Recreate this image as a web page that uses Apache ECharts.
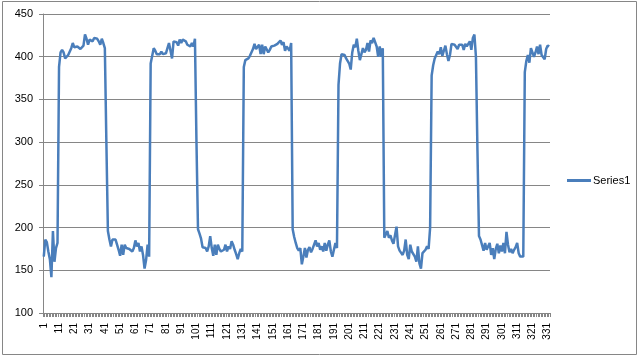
<!DOCTYPE html>
<html>
<head>
<meta charset="utf-8">
<script src="https://cdn.jsdelivr.net/npm/echarts@6/dist/echarts.min.js"></script>
<style>
html,body{margin:0;padding:0;background:#fff;}
#chart{width:640px;height:357px;}
</style>
</head>
<body>
<div id="chart"></div>
<script>
const seriesName = "Series1";
const series1 = [
166,186,183,172,163,142,196,160,176,182,
388,405,408,405,398,397,402,400,410,416,
411,410,412,410,409,409,413,426,421,414,
420,419,418,422,420,421,418,414,421,416,
410,300,196,186,178,186,187,186,180,174,
167,180,168,180,176,178,175,176,172,176,
185,178,182,172,178,168,152,162,180,166,
392,393,410,407,403,405,403,406,403,405,
404,410,416,417,398,418,416,417,413,420,
416,420,419,418,414,414,412,416,412,421,
300,198,193,187,177,179,176,172,178,190,
176,167,180,168,180,175,172,174,174,180,
172,178,175,184,180,174,169,163,170,175,
172,388,396,397,398,401,403,409,415,409,
410,414,403,414,403,412,411,405,408,412,
410,413,411,415,414,419,414,417,407,412,
414,407,416,198,189,182,176,173,176,157,
166,176,165,174,177,171,175,180,185,178,
182,174,178,172,182,173,180,185,172,166,
174,182,176,367,392,403,402,402,398,400,
392,385,405,414,411,421,407,396,395,410,
405,408,416,406,419,416,422,420,412,400,
412,400,410,188,186,196,188,191,185,181,
183,201,178,173,172,168,173,186,168,163,
180,172,172,166,160,178,158,152,170,170,
174,178,175,200,378,390,398,402,406,403,
411,401,407,413,403,395,402,415,414,414,
414,409,414,412,414,408,415,412,410,418,
408,422,426,400,290,190,186,186,173,182,
174,172,182,168,176,163,175,181,170,179,
172,182,170,195,180,171,175,170,174,177,
182,170,166,166,166,382,395,402,393,410,
405,400,405,412,403,414,402,401,397,409,
413,412
];
const categories = series1.map((v, i) => String(i + 1));
const yMin = 100, yMax = 450, yStep = 50;

const chart = echarts.init(document.getElementById('chart'), null, {renderer: 'canvas'});
const axisGray = '#868686';
chart.setOption({
  animation: false,
  backgroundColor: '#ffffff',
  textStyle: {fontFamily: 'Liberation Sans, Arial, sans-serif'},
  graphic: [{
    type: 'rect',
    shape: {x: 2.5, y: 1.5, width: 634, height: 353},
    style: {fill: 'none', stroke: axisGray, lineWidth: 1},
    silent: true, z: -1
  }],
  grid: {left: 43, right: 90, top: 14, bottom: 44, containLabel: false},
  legend: {
    data: [seriesName],
    left: 562, top: 170,
    icon: 'rect', itemWidth: 24, itemHeight: 3, itemGap: 4,
    textStyle: {fontSize: 11, color: '#000', padding: [0,0,0,-3]}
  },
  xAxis: {
    type: 'category',
    data: categories,
    boundaryGap: true,
    axisLine: {lineStyle: {color: axisGray, width: 1}},
    axisTick: {show: true, interval: 0, length: 4, lineStyle: {color: axisGray}},
    axisLabel: {interval: 9, rotate: 90, fontSize: 10, color: '#000', margin: 10},
    splitLine: {show: false}
  },
  yAxis: {
    type: 'value',
    min: yMin, max: yMax, interval: yStep,
    axisLine: {show: true, lineStyle: {color: axisGray, width: 1}},
    axisTick: {show: true, length: 4, lineStyle: {color: axisGray}},
    axisLabel: {fontSize: 11, color: '#000', margin: 10},
    splitLine: {show: true, lineStyle: {color: axisGray, width: 1}}
  },
  series: [{
    name: seriesName,
    type: 'line',
    data: series1,
    symbol: 'none',
    lineStyle: {color: '#4A7EBB', width: 2.5},
    itemStyle: {color: '#4A7EBB'}
  }]
});
</script>
</body>
</html>
